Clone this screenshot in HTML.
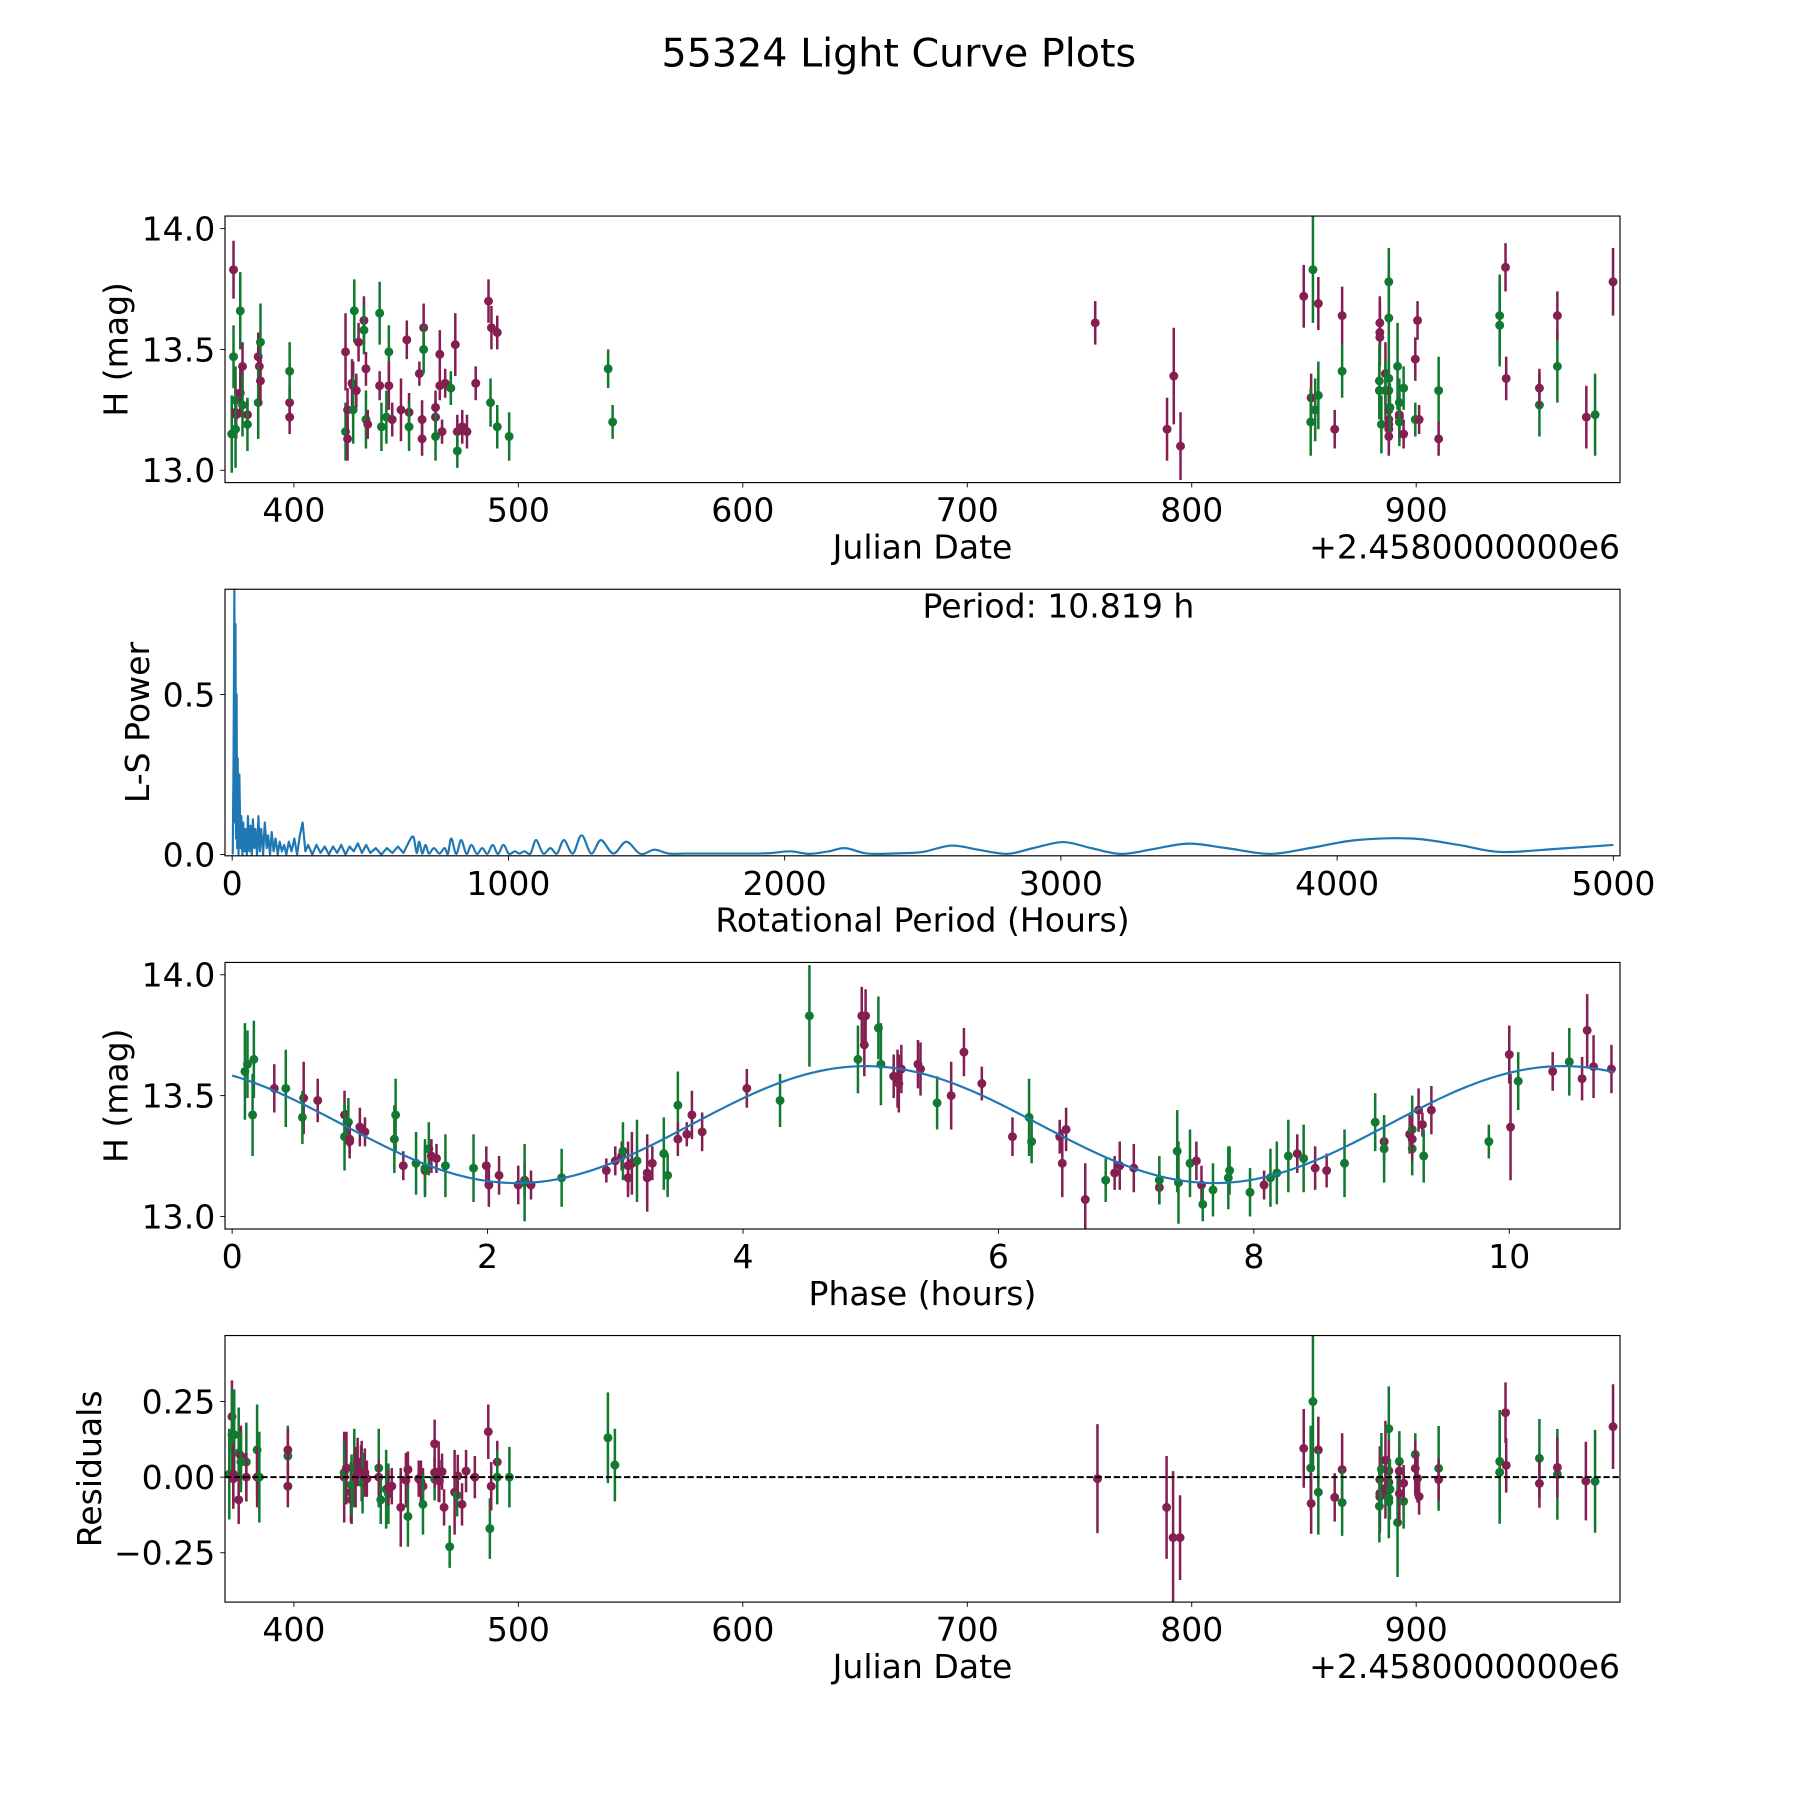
<!DOCTYPE html>
<html><head><meta charset="utf-8"><title>55324 Light Curve Plots</title>
<style>
html,body{margin:0;padding:0;background:#fff;}
svg{display:block;font-family:"DejaVu Sans","Liberation Sans",sans-serif;}
</style></head>
<body>
<svg id="fig" xmlns="http://www.w3.org/2000/svg" width="1800" height="1800" viewBox="0 0 1568 1568">
<rect x="0" y="0" width="1568" height="1568" fill="#fff"/>
<text x="783" y="58" font-size="34.5" text-anchor="middle">55324 Light Curve Plots</text>
</svg>
<script>
// ---------- Panel 1: light curve ----------
const lcJD = [373.1,373.1,372.3,374.0,374.0,374.3,374.0,376.1,376.1,377.1,377.1,379.3,379.3,384.1,384.6,384.1,385.1,385.1,398.1,398.1,398.1,423.0,423.0,423.9,423.9,425.9,426.4,426.4,426.9,427.8,428.8,431.2,431.2,432.1,432.1,432.9,438.2,438.2,439.0,441.2,442.3,442.3,443.8,447.7,450.3,451.3,451.3,455.9,457.1,457.1,457.8,457.8,463.1,463.1,463.1,465.0,465.0,466.0,467.4,469.9,471.9,472.8,472.8,475.0,477.1,481.0,486.7,488.0,487.6,490.6,490.6,495.9,540,542,757,789,792,795,849.9,854.0,856.4,853.2,853.0,855.0,856.4,863.7,867.0,867.0,883.8,883.8,883.8,883.6,883.6,884.5,886.3,886.3,887.8,887.8,887.8,887.8,887.8,887.8,887.8,887.8,887.8,888.3,891.7,892.5,892.5,892.5,892.5,894.4,894.4,899.6,899.6,900.6,901.3,910.0,910.0,937.2,937.2,939.8,940.1,954.9,954.9,962.9,962.9,975.8,979.7,987.7];
const lcMag = [13.83,13.47,13.15,13.29,13.24,13.23,13.17,13.66,13.32,13.43,13.27,13.23,13.19,13.47,13.43,13.28,13.53,13.37,13.28,13.22,13.41,13.49,13.16,13.25,13.13,13.36,13.35,13.25,13.66,13.33,13.53,13.62,13.58,13.42,13.21,13.19,13.65,13.35,13.18,13.22,13.49,13.35,13.21,13.25,13.54,13.24,13.18,13.40,13.21,13.13,13.59,13.50,13.26,13.22,13.14,13.48,13.35,13.16,13.36,13.34,13.52,13.16,13.08,13.18,13.16,13.36,13.70,13.59,13.28,13.57,13.18,13.14,13.42,13.20,13.61,13.17,13.39,13.10,13.72,13.83,13.69,13.30,13.20,13.25,13.31,13.17,13.64,13.41,13.61,13.57,13.55,13.37,13.33,13.19,13.40,13.33,13.78,13.63,13.38,13.33,13.25,13.21,13.19,13.17,13.14,13.26,13.43,13.23,13.22,13.20,13.28,13.34,13.15,13.46,13.21,13.62,13.21,13.33,13.13,13.64,13.60,13.84,13.38,13.27,13.34,13.43,13.64,13.22,13.23,13.78];
const lcErr = [.12,.13,.16,.14,.1,.1,.16,.16,.1,.1,.13,.06,.11,.1,.1,.15,.16,.1,.07,.07,.12,.16,.12,.09,.09,.1,.1,.14,.13,.07,.08,.1,.1,.07,.12,.06,.13,.06,.1,.11,.11,.1,.07,.13,.08,.08,.1,.05,.08,.07,.1,.1,.07,.07,.1,.1,.06,.05,.06,.07,.13,.07,.07,.07,.07,.07,.09,.09,.1,.07,.09,.1,.08,.07,.09,.13,.2,.14,.13,.22,.11,.1,.14,.13,.14,.08,.12,.11,.11,.12,.12,.15,.12,.12,.13,.12,.14,.22,.12,.12,.1,.08,.08,.08,.08,.1,.18,.1,.1,.1,.1,.09,.06,.09,.07,.08,.06,.14,.07,.17,.17,.1,.09,.13,.08,.15,.1,.13,.17,.14];
const lcCol = ["m","g","g","g","m","m","g","g","m","m", "g","m","g","m","m","g","g","m","m","m", "g","m","g","m","m","m","m","g","g","m", "m","m","g","m","g","m","g","m","g","g", "g","m","m","m","m","m","g","m","m","m", "m","g","m","m","g","m","m","m","m","g", "m","m","g","m","m","m","m","m","g","m", "g","g","g","g","m","m","m","m",
 "m","g","m","m","g","g","g","m","m","g", "m","m","m","g","g","g","m","g", "g","g","g","g","m","m","m","m","m", "g","g","m","m","g","g","g","m","m","g","m","m","g","m","g","g","m","m","g","m","g","m","m","g","m"];

// ---------- Panel 2: Lomb-Scargle periodogram ----------
const lsPeriod = [
 2,5,8,10,12,14,16,18,20,23,
 26,30,33,37,40,45,48,53,57,62,
 66,71,75,80,84,90,95,100,105,112,
 118,125,130,137,143,150,157,165,172,180,
 188,196,205,215,225,235,245,255,265,275,
 290,305,320,335,350,365,380,395,410,425,
 440,455,470,485,500,520,540,560,580,600,
 620,640,656,668,677,688,700,712,730,750,
 769,781,793,811,829,848,866,886,905,924,
 943,962,982,1002,1023,1040,1058,1080,1100,1126,
 1152,1176,1201,1233,1265,1300,1335,1380,1427,1478,
 1529,1580,1640,1750,1850,1940,2020,2090,2160,2220,
 2300,2420,2500,2604,2700,2806,2900,3008,3110,3219,
 3340,3463,3600,3757,3900,4069,4271,4440,4591,4800,
 5000];
const lsPower = [
 0,0.3,0.83,0.1,0.72,0.05,0.5,0.02,0.3,0,
 0.25,0.02,0.12,0,0.1,0.01,0.08,0,0.12,0.01,
 0.09,0,0.11,0.02,0.08,0,0.12,0.01,0.08,0,
 0.1,0.02,0.06,0,0.07,0.01,0.05,0,0.04,0.01,
 0.03,0,0.04,0.01,0.05,0,0.06,0.1,0.01,0.03,
 0,0.03,0.005,0.025,0,0.025,0.005,0.03,0,0.025,
 0.01,0.035,0.005,0.03,0.005,0.02,0,0.02,0.005,0.025,
 0.005,0.04,0.055,0.005,0.04,0.003,0.03,0.003,0.02,0.003,
 0.02,0.002,0.05,0.002,0.045,0.002,0.03,0.002,0.02,0.002,
 0.03,0.002,0.03,0.002,0.01,0.003,0.01,0.003,0.045,0.003,
 0.02,0.003,0.045,0.003,0.06,0.003,0.045,0.003,0.04,0.002,
 0.015,0.003,0.003,0.003,0.003,0.004,0.01,0.002,0.01,0.02,
 0.003,0.004,0.008,0.028,0.015,0.002,0.02,0.039,0.02,0.002,
 0.018,0.034,0.02,0.002,0.02,0.045,0.05,0.03,0.008,0.018,
 0.03];
const periodLabel = "Period: 10.819 h";

// ---------- Panel 3: phased light curve ----------
const phHours = [0.10,0.12,0.17,0.16,0.33,0.42,0.56,0.55,0.67,0.88,0.90,0.91,0.88,0.92,0.92,1.00,1.04,1.28,1.27,1.34,1.44,1.51,1.51,1.54,1.56,1.60,1.67,1.89,1.99,2.01,2.09,2.24,2.29,2.29,2.34,2.58,2.93,3.00,3.05,3.06,3.10,3.10,3.13,3.17,3.25,3.25,3.29,3.38,3.41,3.49,3.49,3.56,3.60,3.68,4.03,4.29,4.52,4.90,4.93,4.96,4.95,5.06,5.08,5.18,5.21,5.22,5.24,5.37,5.39,5.52,5.63,5.73,5.87,6.11,6.24,6.26,6.48,6.53,6.50,6.68,6.84,6.91,6.95,7.06,7.26,7.26,7.40,7.41,7.50,7.55,7.59,7.60,7.68,7.80,7.81,7.97,8.08,8.13,8.18,8.27,8.34,8.39,8.48,8.57,8.71,8.95,9.02,9.02,9.22,9.24,9.24,9.24,9.29,9.32,9.33,9.39,9.84,10.00,10.01,10.07,10.34,10.47,10.57,10.61,10.66,10.80];
const phMag = [13.60,13.63,13.65,13.42,13.53,13.53,13.49,13.41,13.48,13.42,13.39,13.39,13.33,13.32,13.31,13.37,13.35,13.42,13.32,13.21,13.22,13.19,13.20,13.28,13.25,13.24,13.21,13.20,13.21,13.13,13.17,13.13,13.15,13.14,13.13,13.16,13.19,13.23,13.25,13.27,13.21,13.16,13.22,13.23,13.18,13.16,13.22,13.26,13.17,13.46,13.32,13.34,13.42,13.35,13.53,13.48,13.83,13.65,13.83,13.83,13.71,13.78,13.63,13.58,13.57,13.55,13.61,13.63,13.61,13.47,13.50,13.68,13.55,13.33,13.41,13.31,13.33,13.36,13.22,13.07,13.15,13.18,13.21,13.20,13.12,13.15,13.27,13.14,13.22,13.23,13.13,13.05,13.11,13.16,13.19,13.10,13.13,13.16,13.18,13.25,13.26,13.24,13.20,13.19,13.22,13.39,13.31,13.28,13.34,13.36,13.28,13.32,13.44,13.38,13.25,13.44,13.31,13.67,13.37,13.56,13.60,13.64,13.57,13.77,13.62,13.61];
const phErr = [.2,.14,.16,.17,.1,.16,.15,.11,.09,.1,.05,.1,.14,.06,.07,.08,.06,.15,.14,.06,.13,.1,.12,.11,.07,.06,.13,.14,.08,.09,.08,.08,.07,.16,.06,.12,.05,.06,.06,.12,.1,.08,.13,.17,.16,.1,.07,.15,.09,.14,.07,.05,.1,.08,.08,.11,.21,.14,.12,.11,.13,.13,.17,.09,.12,.12,.1,.1,.11,.11,.14,.1,.07,.08,.16,.09,.07,.09,.14,.15,.09,.07,.1,.1,.07,.1,.17,.17,.14,.08,.08,.07,.11,.13,.1,.1,.06,.12,.13,.15,.08,.14,.09,.07,.14,.12,.08,.14,.08,.14,.11,.09,.09,.05,.11,.1,.07,.12,.22,.12,.08,.14,.09,.15,.13,.1];
const phCol = ["g","g","g","g","m","g","m","g","m", "m","m","g","g","m","m","m","m", "g","g","m","g","m","g","g","m","m","g", "g","m","m","m","m","m","g","m","g", "m","m","m","g","m","m","m","g","m","m","m","g","g", "g","m","m","m","m", "m","g","g", "g","m","m","m","g","g","m","m","m","m","m", "m","g","m","m","m", "m","g","g","m","m","m","m", "g","m","m","m", "m","g","g","g","g","m","m","g","g", "g","g","g","m","g","g","g","m","g","m","m", "g","g","m","g","m","g","g","m","m","m","g","m", "g","m","m","g","m","g","m","m","m","m"];
// sinusoidal fit: [mean mag, amplitude, phase of maximum (h), repeat (h)]
const fitParams = [13.38, 0.242, 4.96, 5.46];

// ---------- Panel 4: residuals ----------
const resJD = [371.2,372.4,372.4,373.4,373.0,373.0,375.4,375.4,376.4,376.4,378.8,378.8,383.6,383.6,384.6,397.3,397.3,397.3,422.4,422.4,423.4,425.4,425.7,425.7,426.9,427.5,428.4,429.9,430.2,430.6,431.6,432.5,437.8,437.8,438.7,441.1,442.1,442.1,443.6,447.6,449.9,450.8,450.8,455.6,456.6,457.5,457.5,462.7,462.7,462.7,464.5,464.8,466.0,466.9,469.4,471.6,472.7,473.0,474.9,476.7,480.6,486.6,487.3,487.9,490.6,490.6,496.0,539.9,543.0,758,788.8,791.7,794.8,849.9,854.0,853.0,853.2,856.4,856.4,863.7,867.0,867.0,883.8,883.8,883.8,883.6,884.5,886.3,886.3,887.8,887.8,887.8,887.8,887.8,887.8,888.3,891.7,892.5,892.5,892.5,894.4,894.4,899.6,899.6,900.6,901.3,910.0,910.0,937.2,937.2,939.8,940.1,954.9,954.9,962.9,962.9,975.6,979.7,987.7];
const resVal = [0.01,0.20,0.14,0.14,0.01,-0.005,0.08,-0.075,0.07,0.05,0.05,0.0,0.09,0.0,0.0,0.07,0.09,-0.03,0.0,0.015,0.03,-0.05,-0.075,-0.025,0.03,0.0,0.05,0.045,0.02,-0.02,0.015,-0.005,0.03,0.0,-0.075,-0.04,-0.055,-0.035,-0.03,-0.10,-0.01,0.025,-0.13,-0.005,-0.015,-0.03,-0.09,0.11,-0.007,0.015,0.018,-0.013,0.018,-0.10,-0.23,-0.05,-0.06,0.004,-0.09,0.02,0.0,0.15,-0.17,-0.03,0.05,0.0,0.0,0.13,0.04,-0.005,-0.10,-0.20,-0.20,0.095,0.25,0.03,-0.087,0.09,-0.05,-0.067,0.025,-0.084,-0.008,-0.054,-0.065,-0.096,0.026,0.056,-0.037,0.16,0.021,-0.017,-0.043,-0.07,-0.082,-0.04,-0.15,0.02,0.052,-0.054,-0.08,-0.02,0.075,0.029,-0.004,-0.064,0.029,-0.008,0.052,0.016,0.213,0.039,0.062,-0.021,0.009,0.032,-0.013,-0.014,0.167];
const resErr = [.15,.12,.15,.15,.1,.1,.15,.08,.1,.1,.13,.08,.15,.1,.15,.1,.07,.07,.15,.1,.12,.1,.08,.1,.13,.1,.08,.06,.1,.1,.08,.06,.13,.06,.08,.13,.1,.06,.06,.13,.09,.06,.1,.06,.07,.06,.1,.08,.07,.05,.1,.07,.06,.06,.07,.14,.07,.07,.07,.07,.07,.09,.1,.08,.07,.09,.1,.15,.12,.18,.17,.22,.14,.13,.22,.14,.1,.11,.14,.08,.12,.11,.11,.12,.12,.12,.12,.13,.1,.14,.1,.08,.08,.12,.12,.1,.18,.1,.1,.1,.09,.06,.07,.09,.08,.06,.14,.07,.17,.17,.1,.09,.13,.08,.15,.1,.13,.17,.14];
const resCol = ["g","m","g","g","m","m","g","m","m","g","g","m","g","m","g","g","m","m", "m","g","m","m","m","g","g","m","m","m","m","g","m","m", "g","m","g","g","g","m","m","m","m","m","g","m","m","m","g", "m","g","m","m","m","m","m","g","m","g","m","m","m","m", "m","g","m","m","g","g", "g","g", "m","m","m","m",
 "m","g","g","m","m","g","m","m","g", "m","m","m","g","g","m","m","g","m","m","m","g","g","g","g", "m","g","m","g","m","g","m","m","m", "g","m","g","g","m","m","g","m","g","m","m","g","m"];

const JD_TICKS = [400,500,600,700,800,900];
const JD_TICK_LABELS = ["400","500","600","700","800","900"];
const MAG_TICKS = [13.0,13.5,14.0];
const MAG_TICK_LABELS = ["13.0","13.5","14.0"];
const LS_XTICKS = [0,1000,2000,3000,4000,5000];
const LS_XTICK_LABELS = ["0","1000","2000","3000","4000","5000"];
const LS_YTICKS = [0,0.5];
const LS_YTICK_LABELS = ["0.0","0.5"];
const PH_TICKS = [0,2,4,6,8,10];
const PH_TICK_LABELS = ["0","2","4","6","8","10"];
const RES_TICKS = [-0.25,0,0.25];
const RES_TICK_LABELS = ["\u22120.25","0.00","0.25"];

const NS = "http://www.w3.org/2000/svg";
const svg = document.getElementById("fig");
const COLORS = {m:"#851f52", g:"#127a30"};
const FS = 28.8;
const L = 196, R = 1411.2, H = 232.2;
const TOPS = [188.2, 513.3, 838.4, 1163.4];

function mk(tag, attrs, parent){
  const e = document.createElementNS(NS, tag);
  for (const k in attrs) e.setAttribute(k, attrs[k]);
  (parent||svg).appendChild(e);
  return e;
}
function scale(d0,d1,r0,r1){ return v => r0 + (v-d0)/(d1-d0)*(r1-r0); }

function makePanel(idx, xlim, ylim, opts){
  const top = TOPS[idx], bot = top + H;
  const g = mk("g", {});
  
  
  const sx = scale(xlim[0], xlim[1], L, R);
  const sy = scale(ylim[0], ylim[1], bot, top);
  const clipId = "clip"+idx;
  const cp = mk("clipPath", {id:clipId}, g);
  mk("rect", {x:L, y:top, width:R-L, height:H}, cp);
  const plot = mk("g", {"clip-path":"url(#"+clipId+")"}, g);
  
  
  opts.xticks.forEach((t,i) => {
    const x = sx(t);
    const tk = mk("line", {x1:x, x2:x, y1:bot, y2:bot+4.2, stroke:"#000", "stroke-width":0.8}, g);
    
    
    const tl = mk("text", {x:x, y:bot+34, "font-size":FS, "text-anchor":"middle"}, g);
    tl.textContent = opts.xtickLabels[i];
    
    
  });
  opts.yticks.forEach((t,i) => {
    const y = sy(t);
    const tk = mk("line", {x1:L-4.2, x2:L, y1:y, y2:y, stroke:"#000", "stroke-width":0.8}, g);
    
    
    const tl = mk("text", {x:L-8.5, y:y+10.4, "font-size":FS, "text-anchor":"end"}, g);
    tl.textContent = opts.ytickLabels[i];
    
    
  });
  const xl = mk("text", {x:(L+R)/2, y:bot+66, "font-size":FS, "text-anchor":"middle"}, g);
  xl.textContent = opts.xlabel;
  
  
  if (opts.offset){
    const ot = mk("text", {x:R, y:bot+66, "font-size":FS, "text-anchor":"end"}, g);
    ot.textContent = opts.offset;
    
    
  }
  const cy = top + H/2;
  const yl = mk("text", {x:opts.ylabelX, y:cy, "font-size":FS, "text-anchor":"middle", transform:"rotate(-90 "+opts.ylabelX+" "+cy+")"}, g);
  yl.textContent = opts.ylabel;
  
  
  return {g, plot, sx, sy, top, bot, finish(){
    const fr = mk("rect", {x:L, y:top, width:R-L, height:H, fill:"none", stroke:"#000", "stroke-width":1}, g);
    
    
  }};
}

function errorPoints(p, xs, ys, es, cs, name){
  const layer = mk("g", {}, p.plot);
  
  
  const n = Math.min(xs.length, ys.length);
  for (let i=0;i<n;i++){
    const c = COLORS[cs[i]] || COLORS.m;
    const e = (es[i] === undefined) ? 0.1 : es[i];
    const x = p.sx(xs[i]);
    const eb = mk("line", {x1:x, x2:x, y1:p.sy(ys[i]-e), y2:p.sy(ys[i]+e), stroke:c, "stroke-width":2.2}, layer);
    
    
    const pt = mk("circle", {cx:x, cy:p.sy(ys[i]), r:3.9, fill:c}, layer);
    
    
  }
}

// Panel 1
const p1 = makePanel(0, [369.3, 990.8], [12.949, 14.052], {name:"light-curve-panel", xticks:JD_TICKS, xtickLabels:JD_TICK_LABELS, yticks:MAG_TICKS, ytickLabels:MAG_TICK_LABELS, xlabel:"Julian Date", offset:"+2.4580000000e6", ylabel:"H (mag)", ylabelX:111});
errorPoints(p1, lcJD, lcMag, lcErr, lcCol, "light-curve-series");
p1.finish();

// Panel 2
const p2 = makePanel(1, [-26, 5024], [-0.004, 0.829], {name:"periodogram-panel", xticks:LS_XTICKS, xtickLabels:LS_XTICK_LABELS, yticks:LS_YTICKS, ytickLabels:LS_YTICK_LABELS, xlabel:"Rotational Period (Hours)", ylabel:"L-S Power", ylabelX:130});
const pts = lsPeriod.map((v,i)=>[p2.sx(v), p2.sy(lsPower[i])]);
let d = "M" + pts[0][0].toFixed(2) + " " + pts[0][1].toFixed(2);
for (let i=1;i<pts.length;i++){
  if (lsPeriod[i] <= 640){
    d += "L" + pts[i][0].toFixed(2) + " " + pts[i][1].toFixed(2);
  } else {
    const p0 = pts[i-2] || pts[i-1], pA = pts[i-1], pB = pts[i], p3 = pts[i+1] || pts[i];
    const c1x = pA[0] + (pB[0]-p0[0])/6, c1y = pA[1] + (pB[1]-p0[1])/6;
    const c2x = pB[0] - (p3[0]-pA[0])/6, c2y = pB[1] - (p3[1]-pA[1])/6;
    d += "C" + c1x.toFixed(2) + " " + c1y.toFixed(2) + " " + c2x.toFixed(2) + " " + c2y.toFixed(2) + " " + pB[0].toFixed(2) + " " + pB[1].toFixed(2);
  }
}
const lsLine = mk("path", {d:d, fill:"none", stroke:"#1f77b4", "stroke-width":1.9, "stroke-linejoin":"round"}, p2.plot);


const perT = mk("text", {x:922, y:538, "font-size":FS, "text-anchor":"middle"}, p2.g);
perT.textContent = periodLabel;


p2.finish();

// Panel 3
const p3p = makePanel(2, [-0.056, 10.867], [12.948, 14.051], {name:"phased-curve-panel", xticks:PH_TICKS, xtickLabels:PH_TICK_LABELS, yticks:MAG_TICKS, ytickLabels:MAG_TICK_LABELS, xlabel:"Phase (hours)", ylabel:"H (mag)", ylabelX:111});
errorPoints(p3p, phHours, phMag, phErr, phCol, "phased-series");
let fd = "";
for (let k=0;k<=400;k++){
  const ph = k/400*10.819;
  const m = fitParams[0] + fitParams[1]*Math.cos(2*Math.PI*(ph-fitParams[2])/fitParams[3]);
  fd += (k?"L":"M") + p3p.sx(ph).toFixed(2) + " " + p3p.sy(m).toFixed(2);
}
const fitLine = mk("path", {d:fd, fill:"none", stroke:"#1f77b4", "stroke-width":1.9}, p3p.plot);


p3p.finish();

// Panel 4
const p4 = makePanel(3, [369.3, 990.8], [-0.413, 0.468], {name:"residuals-panel", xticks:JD_TICKS, xtickLabels:JD_TICK_LABELS, yticks:RES_TICKS, ytickLabels:RES_TICK_LABELS, xlabel:"Julian Date", offset:"+2.4580000000e6", ylabel:"Residuals", ylabelX:88});
errorPoints(p4, resJD, resVal, resErr, resCol, "residuals-series");
const zl = mk("line", {x1:L, x2:R, y1:p4.sy(0), y2:p4.sy(0), stroke:"#000", "stroke-width":1.8, "stroke-dasharray":"5.5 2.4"}, p4.plot);


p4.finish();
</script>
</body></html>
